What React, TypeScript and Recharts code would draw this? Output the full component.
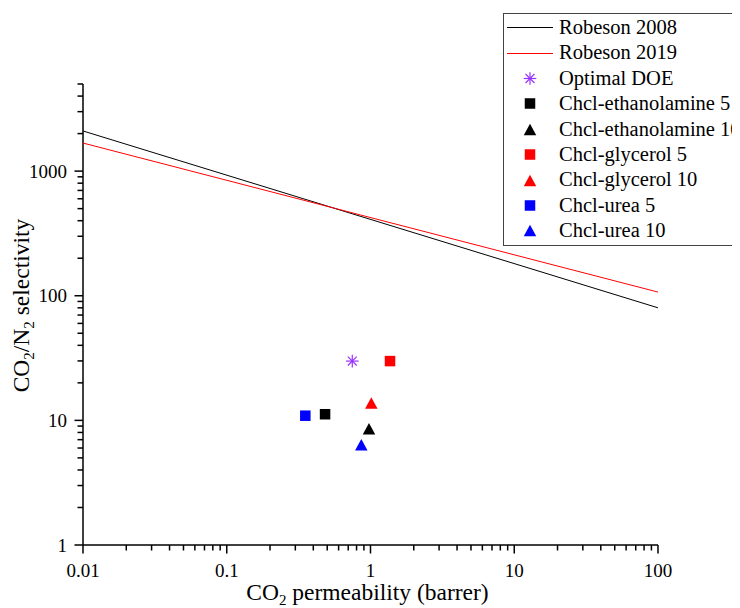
import React from 'react';
import { ScatterChart, Scatter, XAxis, YAxis, Legend } from 'recharts';

// ---- data ----
const robeson2008 = [
  { x: 0.01, y: 2100 },
  { x: 100, y: 80 },
];
const robeson2019 = [
  { x: 0.01, y: 1680 },
  { x: 100, y: 107 },
];
const optimalDOE = [{ x: 0.747, y: 29.9 }];
const ethanolamine5 = [{ x: 0.483, y: 11.2 }];
const ethanolamine10 = [{ x: 0.976, y: 8.57 }];
const glycerol5 = [{ x: 1.367, y: 29.9 }];
const glycerol10 = [{ x: 1.013, y: 13.8 }];
const urea5 = [{ x: 0.352, y: 10.9 }];
const urea10 = [{ x: 0.863, y: 6.37 }];

const xMajorTicks = [0.01, 0.1, 1, 10, 100];
const xMinorTicks = [
  0.02, 0.03, 0.04, 0.05, 0.06, 0.07, 0.08, 0.09,
  0.2, 0.3, 0.4, 0.5, 0.6, 0.7, 0.8, 0.9,
  2, 3, 4, 5, 6, 7, 8, 9,
  20, 30, 40, 50, 60, 70, 80, 90,
];
const yMajorTicks = [1, 10, 100, 1000];
const yMinorTicks = [
  2, 3, 4, 5, 6, 7, 8, 9,
  20, 30, 40, 50, 60, 70, 80, 90,
  200, 300, 400, 500, 600, 700, 800, 900,
  2000, 3000, 4000, 5000,
];

const FONT = '"Liberation Serif", "Times New Roman", serif';

type Kind = 'line' | 'square' | 'triangle' | 'asterisk';
const series: { name: string; data: { x: number; y: number }[]; color: string; kind: Kind }[] = [
  { name: 'Robeson 2008', data: robeson2008, color: '#000000', kind: 'line' },
  { name: 'Robeson 2019', data: robeson2019, color: '#ff0000', kind: 'line' },
  { name: 'Optimal DOE', data: optimalDOE, color: '#9933ff', kind: 'asterisk' },
  { name: 'Chcl-ethanolamine 5', data: ethanolamine5, color: '#000000', kind: 'square' },
  { name: 'Chcl-ethanolamine 10', data: ethanolamine10, color: '#000000', kind: 'triangle' },
  { name: 'Chcl-glycerol 5', data: glycerol5, color: '#ff0000', kind: 'square' },
  { name: 'Chcl-glycerol 10', data: glycerol10, color: '#ff0000', kind: 'triangle' },
  { name: 'Chcl-urea 5', data: urea5, color: '#0000ff', kind: 'square' },
  { name: 'Chcl-urea 10', data: urea10, color: '#0000ff', kind: 'triangle' },
];

const isMajor = (v: number) => {
  const l = Math.log10(v);
  return Math.abs(l - Math.round(l)) < 1e-6;
};

const Marker = ({ kind, color, cx, cy }: { kind: Kind; color: string; cx: number; cy: number }) => {
  if (kind === 'square') {
    const s = 10.5;
    return <rect x={cx - s / 2} y={cy - s / 2} width={s} height={s} fill={color} />;
  }
  if (kind === 'triangle') {
    const w = 12.5, h = 11.5;
    return (
      <polygon
        points={`${cx},${cy - h / 2} ${cx + w / 2},${cy + h / 2} ${cx - w / 2},${cy + h / 2}`}
        fill={color}
      />
    );
  }
  if (kind === 'asterisk') {
    const r = 6.3;
    const d = r * 0.7071;
    return (
      <g stroke={color} strokeWidth={1.2}>
        <line x1={cx - r} y1={cy} x2={cx + r} y2={cy} />
        <line x1={cx} y1={cy - r} x2={cx} y2={cy + r} />
        <line x1={cx - d} y1={cy - d} x2={cx + d} y2={cy + d} />
        <line x1={cx - d} y1={cy + d} x2={cx + d} y2={cy - d} />
      </g>
    );
  }
  return <g />;
};

const XTick = (props: any) => {
  const { x, y, payload } = props;
  const v = payload.value;
  const major = isMajor(v);
  return (
    <g>
      <line x1={x} x2={x} y1={y} y2={y + (major ? 8.5 : 5.5)} stroke="#000" strokeWidth={1.5} />
      {major && (
        <text x={x} y={y + 32} textAnchor="middle" fontSize={19} fontFamily={FONT} fill="#000">
          {String(v)}
        </text>
      )}
    </g>
  );
};

const YTick = (props: any) => {
  const { x, y, payload } = props;
  const v = payload.value;
  const major = isMajor(v);
  return (
    <g>
      <line x1={x} x2={x - (major ? 8.5 : 5.5)} y1={y} y2={y} stroke="#000" strokeWidth={1.5} />
      {major && (
        <text x={x - 16} y={y + 6.5} textAnchor="end" fontSize={19} fontFamily={FONT} fill="#000">
          {String(v)}
        </text>
      )}
    </g>
  );
};

const XTitle = (props: any) => {
  const vb = props.viewBox || { x: 75, y: 537, width: 575, height: 63 };
  const cx = vb.x + vb.width / 2 - 3;
  const by = vb.y + 55;
  return (
    <text x={cx} y={by} textAnchor="middle" fontSize={23.5} fontFamily={FONT} fill="#000">
      CO<tspan fontSize={15} dy={5}>2</tspan>
      <tspan dy={-5}> permeability (barrer)</tspan>
    </text>
  );
};

const YTitle = (props: any) => {
  const vb = props.viewBox || { x: 0, y: 76, width: 75, height: 461 };
  const cy = vb.y + vb.height / 2 - 9;
  const bx = 20.5;
  return (
    <text
      x={bx}
      y={cy}
      transform={`rotate(-90, ${bx}, ${cy})`}
      textAnchor="middle"
      fontSize={23.5}
      fontFamily={FONT}
      fill="#000"
    >
      CO<tspan fontSize={15} dy={5}>2</tspan>
      <tspan dy={-5}>/N</tspan>
      <tspan fontSize={15} dy={5}>2</tspan>
      <tspan dy={-5}> selectivity</tspan>
    </text>
  );
};

const LegendBox = () => (
  <div
    style={{
      border: '1px solid #444',
      borderRight: 'none',
      width: 300,
      boxSizing: 'border-box',
      paddingTop: 1,
      paddingBottom: 1,
      background: '#fff',
      fontFamily: FONT,
      fontSize: 20.5,
      color: '#000',
      whiteSpace: 'nowrap',
    }}
  >
    {series.map((s) => (
      <div key={s.name} style={{ display: 'flex', alignItems: 'center', height: 25.4 }}>
        <div style={{ width: 55, height: 25, position: 'relative', flex: 'none' }}>
          {s.kind === 'line' ? (
            <div
              style={{
                position: 'absolute',
                left: 3,
                top: 12,
                width: 46,
                height: 1,
                background: s.color,
              }}
            />
          ) : (
            <svg width={55} height={25} style={{ display: 'block' }}>
              <Marker kind={s.kind} color={s.color} cx={26} cy={12.5} />
            </svg>
          )}
        </div>
        <span style={{ lineHeight: '25.4px' }}>{s.name}</span>
      </div>
    ))}
  </div>
);

export default function App() {
  return (
    <div>
      <style>{'html,body{overflow:hidden;}'}</style>
      <ScatterChart width={732} height={600} margin={{ top: 76, right: 82, bottom: 0, left: 0 }}>
        <XAxis
          type="number"
          dataKey="x"
          scale="log"
          domain={[0.01, 100]}
          allowDataOverflow
          ticks={[...xMajorTicks, ...xMinorTicks]}
          interval={0}
          tickSize={0}
          tickMargin={0}
          tickLine={false}
          tick={(p: any) => <XTick {...p} />}
          axisLine={{ stroke: '#000', strokeWidth: 1.5 }}
          height={63}
          label={<XTitle />}
        />
        <YAxis
          type="number"
          dataKey="y"
          scale="log"
          domain={[1, 5000]}
          allowDataOverflow
          ticks={[...yMajorTicks, ...yMinorTicks]}
          interval={0}
          tickSize={0}
          tickMargin={0}
          tickLine={false}
          tick={(p: any) => <YTick {...p} />}
          axisLine={{ stroke: '#000', strokeWidth: 1.5 }}
          width={75}
          label={<YTitle />}
        />
        <Legend
          layout="vertical"
          align="center"
          verticalAlign="middle"
          content={() => <LegendBox />}
          wrapperStyle={{ top: 5, left: 495, width: 237, overflow: 'hidden' }}
        />
        {series.map((s) =>
          s.kind === 'line' ? (
            <Scatter
              key={s.name}
              name={s.name}
              data={s.data}
              fill={s.color}
              line={{ stroke: s.color, strokeWidth: 1 }}
              shape={() => <g />}
              isAnimationActive={false}
            />
          ) : (
            <Scatter
              key={s.name}
              name={s.name}
              data={s.data}
              fill={s.color}
              shape={(p: any) => <Marker kind={s.kind} color={s.color} cx={p.cx} cy={p.cy} />}
              isAnimationActive={false}
            />
          )
        )}
      </ScatterChart>
    </div>
  );
}
